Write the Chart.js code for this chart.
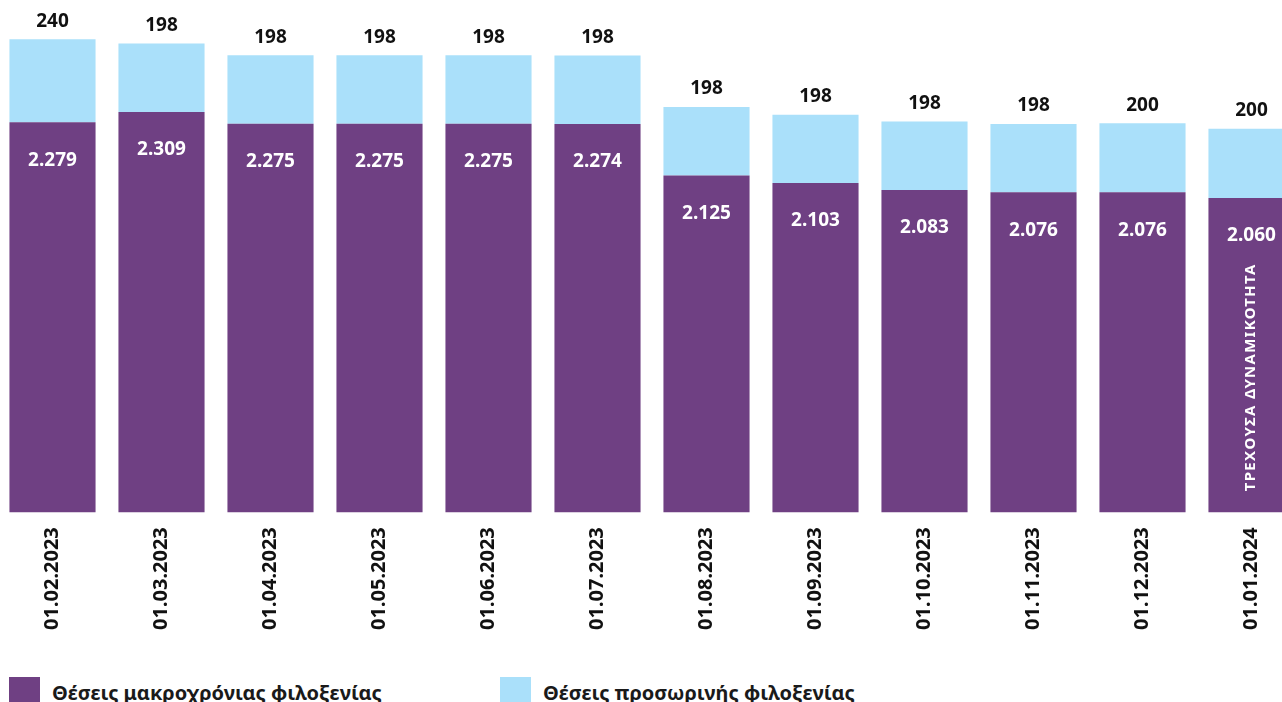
<!DOCTYPE html>
<html lang="el">
<head>
<meta charset="utf-8">
<title>Θέσεις φιλοξενίας</title>
<script src="https://cdn.jsdelivr.net/npm/chart.js@4/dist/chart.umd.min.js"></script>
<style>
  body { margin: 0; background: #fff; overflow: hidden; font-family: "Noto Sans", sans-serif; }
  #wrap { position: absolute; left: -2px; top: 0; width: 1308px; height: 645px; }
  .legend { position: absolute; top: 677px; display: flex; align-items: center; font-weight: 700; font-size: 20px; color: #1a1a1a; }
  .legend span.box { display: inline-block; width: 31px; height: 30px; margin-right: 12px; }
</style>
</head>
<body>
<div id="wrap"><canvas id="chart"></canvas></div>
<div class="legend" style="left:9px"><span class="box" style="background:#6f4083"></span>Θέσεις μακροχρόνιας φιλοξενίας</div>
<div class="legend" style="left:500px"><span class="box" style="background:#aae0fa"></span>Θέσεις προσωρινής φιλοξενίας</div>
<script>
// Ημερομηνίες
const dates = ["01.02.2023", "01.03.2023", "01.04.2023", "01.05.2023", "01.06.2023", "01.07.2023",
               "01.08.2023", "01.09.2023", "01.10.2023", "01.11.2023", "01.12.2023", "01.01.2024"];
// Θέσεις μακροχρόνιας φιλοξενίας
const longTerm = [2279, 2309, 2275, 2275, 2275, 2274, 2125, 2103, 2083, 2076, 2076, 2060];
// Θέσεις προσωρινής φιλοξενίας
const temporary = [240, 198, 198, 198, 198, 198, 198, 198, 198, 198, 200, 200];

const purple = "#6f4083";
const lightBlue = "#aae0fa";

function fmt(v) {
    return v.toLocaleString("de-DE");
}

// Ετικέτες τιμών και κάθετο κείμενο στην τελευταία μπάρα
const labelsPlugin = {
    id: "valueLabels",
    afterDatasetsDraw(chart) {
        const ctx = chart.ctx;
        ctx.save();
        ctx.textAlign = "center";
        ctx.textBaseline = "middle";
        ctx.font = "700 19px 'Noto Sans'";

        chart.getDatasetMeta(0).data.forEach((bar, i) => {
            ctx.fillStyle = "#ffffff";
            ctx.fillText(fmt(longTerm[i]), bar.x, bar.y + 38);
        });
        chart.getDatasetMeta(1).data.forEach((bar, i) => {
            ctx.fillStyle = "#111111";
            ctx.fillText(fmt(temporary[i]), bar.x, bar.y - 18);
        });

        // ΤΡΕΧΟΥΣΑ ΔΥΝΑΜΙΚΟΤΗΤΑ
        const last = chart.getDatasetMeta(0).data[dates.length - 1];
        ctx.translate(last.x - 1, chart.chartArea.bottom - 21);
        ctx.rotate(-Math.PI / 2);
        ctx.textAlign = "left";
        ctx.font = "700 15px 'Noto Sans'";
        ctx.letterSpacing = "1.3px";
        ctx.fillStyle = "#ffffff";
        ctx.fillText("ΤΡΕΧΟΥΣΑ ΔΥΝΑΜΙΚΟΤΗΤΑ", 0, 0);
        ctx.restore();
    }
};

const ctx = document.getElementById("chart").getContext("2d");
new Chart(ctx, {
    type: "bar",
    data: {
        labels: dates,
        datasets: [{
            label: "Θέσεις μακροχρόνιας φιλοξενίας",
            data: longTerm,
            backgroundColor: purple,
            barPercentage: 0.79,
            categoryPercentage: 1
        }, {
            label: "Θέσεις προσωρινής φιλοξενίας",
            data: temporary,
            backgroundColor: lightBlue,
            barPercentage: 0.79,
            categoryPercentage: 1
        }]
    },
    options: {
        responsive: true,
        maintainAspectRatio: false,
        animation: false,
        layout: { padding: { top: 39, left: 0, right: 0, bottom: 0 } },
        plugins: {
            legend: { display: false },
            tooltip: { enabled: false }
        },
        scales: {
            x: {
                stacked: true,
                grid: { display: false, drawTicks: false },
                border: { display: false },
                ticks: {
                    minRotation: 90,
                    maxRotation: 90,
                    padding: 15,
                    color: "#111111",
                    font: { family: "'Noto Sans'", size: 20, weight: "700" }
                }
            },
            y: {
                stacked: true,
                display: false,
                min: 1150,
                max: 2520
            }
        }
    },
    plugins: [labelsPlugin]
});
</script>
</body>
</html>
